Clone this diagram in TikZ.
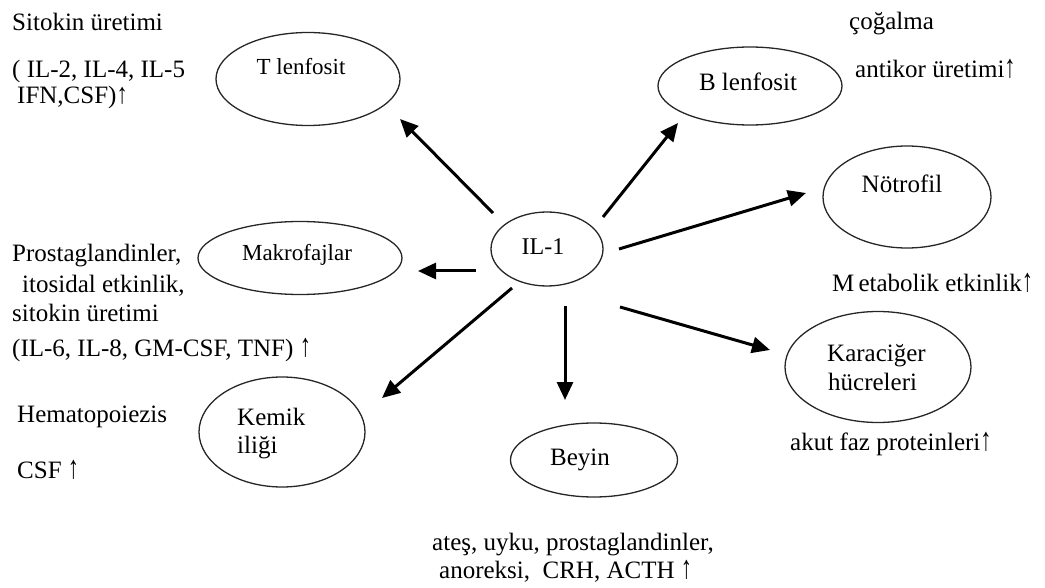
\documentclass[tikz,border=0pt]{standalone}
\usepackage{fontspec}
\setmainfont{Liberation Serif}
\usetikzlibrary{shapes.geometric,arrows.meta}
\newcommand{\uparr}{\scalebox{0.9}[1.3]{↑}}
\newcommand{\uparrs}{\scalebox{0.9}[1.15]{↑}}
\tikzset{
  oval/.style={draw=black!85, line width=1.3pt, ellipse, inner sep=0pt},
  lbl/.style={inner sep=0pt, anchor=base west, font=\fontsize{25}{30}\selectfont},
  intxt/.style={inner sep=0pt, anchor=base, font=\fontsize{25}{30}\selectfont},
  arr/.style={line width=3pt, -{Triangle[length=18pt,width=16pt]}}
}
\begin{document}
\begin{tikzpicture}[x=1pt,y=-1pt]
\useasboundingbox (0,0) rectangle (1045,588);
% ellipses
\node[oval, minimum width=184pt, minimum height=93pt] (tl) at (308,79) {};
\node[oval, minimum width=184pt, minimum height=78pt] (bl) at (750,86) {};
\node[oval, minimum width=168pt, minimum height=102pt] (no) at (907,197) {};
\node[oval, minimum width=112pt, minimum height=74pt] (il) at (547,249) {};
\node[oval, minimum width=204pt, minimum height=73pt] (mk) at (300,258) {};
\node[oval, minimum width=166pt, minimum height=110pt] (ki) at (282,432) {};
\node[oval, minimum width=167pt, minimum height=74pt] (be) at (594,460) {};
\node[oval, minimum width=186pt, minimum height=111pt] (kc) at (878,367) {};
% texts inside
\node[intxt, font=\fontsize{23}{28}\selectfont] (tlt) at (301,75) {T lenfosit};
\node[intxt] (blt) at (748,91) {B lenfosit};
\node[intxt] (not) at (902,193) {Nötrofil};
\node[intxt, font=\fontsize{24}{28}\selectfont] (ilt) at (543,255) {IL-1};
\node[intxt, font=\fontsize{23}{28}\selectfont] (mkt) at (297,261) {Makrofajlar};
\node[lbl] (kit1) at (237,425) {Kemik};
\node[lbl] (kit2) at (237,453) {iliği};
\node[intxt] (bet) at (580,465) {Beyin};
\node[lbl] (kct1) at (827,361) {Karaciğer};
\node[lbl] (kct2) at (828,390) {hücreleri};
% outer labels
\node[lbl] (s1) at (12,31) {Sitokin üretimi};
\node[lbl, align=left, font=\fontsize{25}{26}\selectfont] (s2) at (12,104)
  {( IL-2, IL-4, IL-5\\\hspace*{5pt}IFN,CSF)\uparrs};
\node[lbl] (b1) at (849,30) {çoğalma};
\node[lbl] (b2) at (855,78) {antikor üretimi\uparr};
\node[lbl] (n1) at (832,292) {M\,etabolik etkinlik\uparr};
\node[lbl] (k1) at (790,450) {akut faz proteinleri\uparr};
\node[lbl] (m1) at (12,262) {Prostaglandinler,};
\node[lbl] (m2) at (22,293) {itosidal etkinlik,};
\node[lbl] (m3) at (12,322) {sitokin üretimi};
\node[lbl] (m4) at (12,356) {(IL-6, IL-8, GM-CSF, TNF) \uparr};
\node[lbl] (h1) at (17,422) {Hematopoiezis};
\node[lbl] (h2) at (17,478) {CSF \uparr};
\node[lbl, align=left, font=\fontsize{25}{28}\selectfont] (y1) at (432,578)
  {ateş, uyku, prostaglandinler,\\\hspace*{7pt}anoreksi,\ \ CRH, ACTH \uparr};
% arrow end points
\coordinate (sT) at (493,213); \coordinate (eT) at (400,119);
\coordinate (sB) at (603,217); \coordinate (eB) at (678,123);
\coordinate (sN) at (619,249); \coordinate (eN) at (806,193);
\coordinate (sM) at (476,271); \coordinate (eM) at (418,271);
\coordinate (sK) at (512,288); \coordinate (eK) at (382,398);
\coordinate (sY) at (565,306); \coordinate (eY) at (565,400);
\coordinate (sC) at (620,307); \coordinate (eC) at (770,350);
\draw[arr] (sT) -- (eT);
\draw[arr] (sB) -- (eB);
\draw[arr] (sN) -- (eN);
\draw[arr] (sM) -- (eM);
\draw[arr] (sK) -- (eK);
\draw[arr] (sY) -- (eY);
\draw[arr] (sC) -- (eC);
\end{tikzpicture}
\end{document}
